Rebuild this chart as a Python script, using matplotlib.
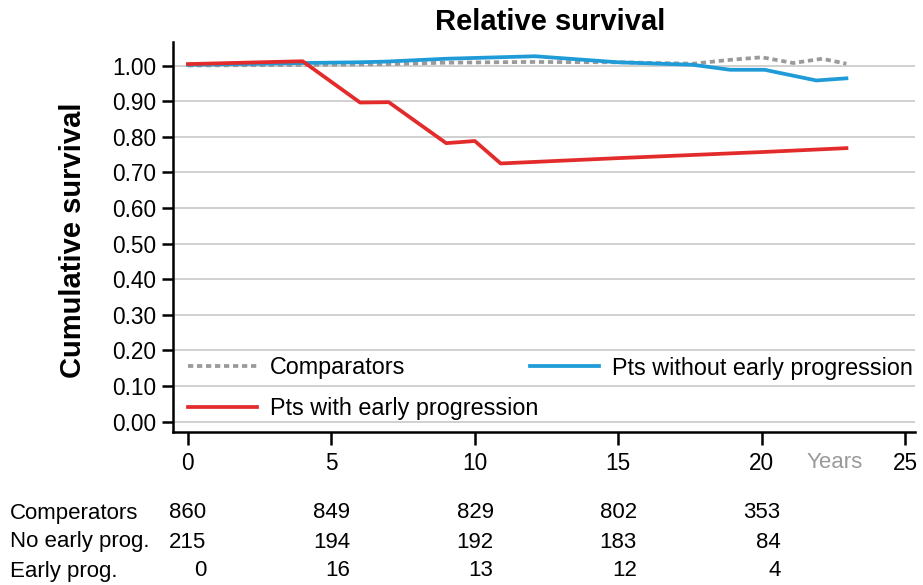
import numpy as np
import matplotlib.pyplot as plt
from matplotlib.transforms import blended_transform_factory

plt.rcParams['font.family'] = ['Liberation Sans', 'DejaVu Sans']

# Data
comp_years = [0, 5, 7, 9, 12, 15, 17.6, 18.9, 20.0, 21.1, 22.1, 22.95]
comp_surv = [1.0, 1.002, 1.004, 1.008, 1.010, 1.009, 1.005, 1.016, 1.023, 1.007, 1.019, 1.005]

noprog_years = [0, 4.0, 5.9, 6.9, 9.0, 12.1, 15.0, 17.6, 18.9, 20.1, 21.9, 22.95]
noprog_surv = [1.002, 1.007, 1.009, 1.011, 1.019, 1.026, 1.009, 1.002, 0.988, 0.988, 0.958, 0.964]

prog_years = [0, 4.0, 6.0, 7.0, 9.0, 10.0, 10.9, 15.0, 20.0, 22.95]
prog_surv = [1.004, 1.012, 0.896, 0.897, 0.782, 0.788, 0.725, 0.740, 0.757, 0.768]

# Numbers at risk
risk_years = [0, 5, 10, 15, 20]
risk_labels = ['Comperators', 'No early prog.', 'Early prog.']
risk_comp = [860, 849, 829, 802, 353]
risk_noprog = [215, 194, 192, 183, 84]
risk_prog = [0, 16, 13, 12, 4]

red = '#e32b2b'
blue = '#1f9bd7'
gray = '#9a9a9a'

fig = plt.figure(figsize=(9.23, 5.85), dpi=100)
ax = fig.add_axes([173 / 923, 1 - 432 / 585, (915 - 173) / 923, (432 - 42) / 585])

ax.set_xlim(-0.52, 25.34)
ax.set_ylim(-0.029, 1.066)

ax.set_yticks(np.arange(0, 1.01, 0.1))
ax.set_yticklabels([f'{v:.2f}' for v in np.arange(0, 1.01, 0.1)])
ax.set_xticks([0, 5, 10, 15, 20, 25])
ax.yaxis.grid(True, color='#c8c8c8', linewidth=1.2)
ax.set_axisbelow(True)

for s in ['top', 'right']:
    ax.spines[s].set_visible(False)
for s in ['left', 'bottom']:
    ax.spines[s].set_linewidth(1.8)
ax.tick_params(axis='y', direction='out', length=8, width=1.8, pad=4, labelsize=16.3)
ax.tick_params(axis='x', direction='out', length=9.5, width=1.8, pad=5, labelsize=16.3)

l_comp, = ax.plot(comp_years, comp_surv, color=gray, linewidth=2.7,
                  linestyle=(0, (1.4, 1.0)), label='Comparators')
l_noprog, = ax.plot(noprog_years, noprog_surv, color=blue, linewidth=2.7,
                    label='Pts without early progression')
l_prog, = ax.plot(prog_years, prog_surv, color=red, linewidth=2.7,
                  label='Pts with early progression')

leg1 = ax.legend(handles=[l_comp, l_prog], loc='center left',
                 bbox_to_anchor=(188 / 923, 1 - 388 / 585), bbox_transform=fig.transFigure,
                 frameon=False, fontsize=16.8, handlelength=2.95, handletextpad=0.55,
                 labelspacing=0.75, borderpad=0, borderaxespad=0)
ax.add_artist(leg1)
ax.legend(handles=[l_noprog], loc='center left',
          bbox_to_anchor=(530 / 923, 1 - 368 / 585), bbox_transform=fig.transFigure,
          frameon=False, fontsize=16.8, handlelength=2.95, handletextpad=0.55,
          borderpad=0, borderaxespad=0)

fig.text(550 / 923, 1 - 22 / 585, 'Relative survival', ha='center', va='center',
         fontsize=21, fontweight='bold')
fig.text(73 / 923, 1 - 240 / 585, 'Cumulative survival', ha='center', va='center',
         rotation=90, fontsize=21, fontweight='bold')

trans = blended_transform_factory(ax.transData, fig.transFigure)
ax.text(22.54, 1 - 463 / 585, 'Years', transform=trans, ha='center', va='center',
        fontsize=16, color=gray)

row_y = [1 - 513 / 585, 1 - 542 / 585, 1 - 571 / 585]
for lab, vals, yy in zip(risk_labels, [risk_comp, risk_noprog, risk_prog], row_y):
    fig.text(10 / 923, yy, lab, ha='left', va='center', fontsize=16)
    for t, v in zip(risk_years, vals):
        ax.text(t + 0.65, yy, str(v), transform=trans, ha='right', va='center',
                fontsize=16, clip_on=False)

fig.savefig('out.png', dpi=100)
